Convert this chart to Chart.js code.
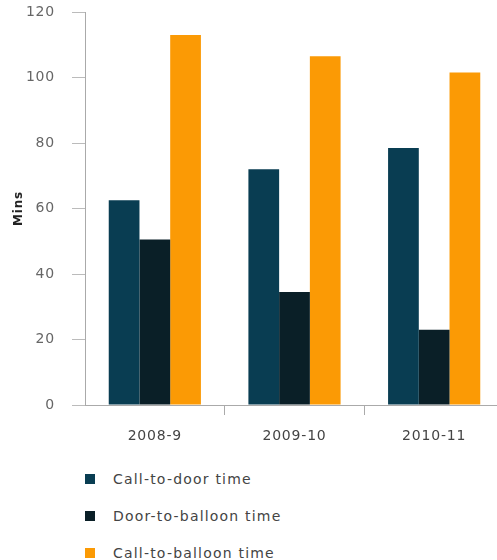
<!DOCTYPE html>
<html>
<head>
<meta charset="utf-8">
<script src="https://cdn.jsdelivr.net/npm/chart.js@4.4.1/dist/chart.umd.min.js"></script>
<style>
  html, body { margin: 0; padding: 0; background: #fff; overflow: hidden; }
  #wrap { position: relative; width: 504px; height: 450px; }
  #legend { margin: 10px 0 0 85px; padding: 0; list-style: none;
            font-family: "DejaVu Sans", sans-serif; font-size: 14px; color: #444; letter-spacing: 1.2px; }
  #legend li { height: 37px; display: flex; align-items: center; }
  #legend .box { width: 10px; height: 10px; margin-right: 18px; }
</style>
</head>
<body>
<div id="wrap"><canvas id="grafico"></canvas></div>
<ul id="legend"></ul>
<script>
// anos e tempos (minutos)
var anos = ["2008-9", "2009-10", "2010-11"];
var series = ["Call-to-door time", "Door-to-balloon time", "Call-to-balloon time"];
var callToDoor = [62.5, 72, 78.5];
var doorToBalloon = [50.5, 34.5, 23];
var callToBalloon = [113, 106.5, 101.5];
var yTicks = [0, 20, 40, 60, 80, 100, 120];

var cores = ["#093d52", "#0a1f27", "#fb9a05"];

var fonte = { family: "DejaVu Sans", size: 14 };

// espaçamento entre letras nos textos do canvas
var espacamento = {
    id: "espacamento",
    beforeDraw: function (chart) { chart.ctx.letterSpacing = "0.8px"; }
};

var barData = {
    labels: anos,
    datasets: [callToDoor, doorToBalloon, callToBalloon].map(function (valores, i) {
        return {
            label: series[i],
            backgroundColor: cores[i],
            borderWidth: 0,
            data: valores,
            barPercentage: 1,
            categoryPercentage: 0.66
        };
    })
};

var barOptions = {
    responsive: true,
    maintainAspectRatio: false,
    animation: false,
    layout: { padding: 0 },
    plugins: { legend: { display: false }, tooltip: { enabled: false } },
    scales: {
        x: {
            grid: {
                drawOnChartArea: false,
                tickLength: 10,
                color: function (ctx) { return ctx.index === 0 ? "rgba(0,0,0,0)" : "#aaa"; }
            },
            border: { color: "#aaa" },
            ticks: { color: "#444", font: fonte, padding: 13 },
            afterFit: function (scale) {
                scale.height = 45;
                scale.paddingLeft = 0;
                scale.paddingRight = 0;
            }
        },
        y: {
            min: 0,
            max: 120,
            afterBuildTicks: function (scale) {
                scale.ticks = yTicks.map(function (v) { return { value: v }; });
            },
            grid: { drawOnChartArea: false, tickLength: 13, color: "#bbb" },
            border: { color: "#aaa" },
            ticks: { color: "#666", font: fonte, padding: 17 },
            title: {
                display: true,
                text: "Mins",
                color: "#222",
                font: { family: "DejaVu Sans", size: 12, weight: "bold" },
                padding: { top: 12, bottom: 0 }
            },
            afterFit: function (scale) {
                scale.width = 85;
                scale.paddingTop = 12;
                scale.paddingBottom = 0;
            }
        }
    }
};

var ctx1 = document.getElementById("grafico").getContext("2d");
new Chart(ctx1, { type: 'bar', data: barData, options: barOptions, plugins: [espacamento] });

// legenda vertical
var legenda = document.getElementById("legend");
series.forEach(function (nome, i) {
    var li = document.createElement("li");
    var box = document.createElement("span");
    box.className = "box";
    box.style.background = cores[i];
    li.appendChild(box);
    li.appendChild(document.createTextNode(nome));
    legenda.appendChild(li);
});
</script>
</body>
</html>
